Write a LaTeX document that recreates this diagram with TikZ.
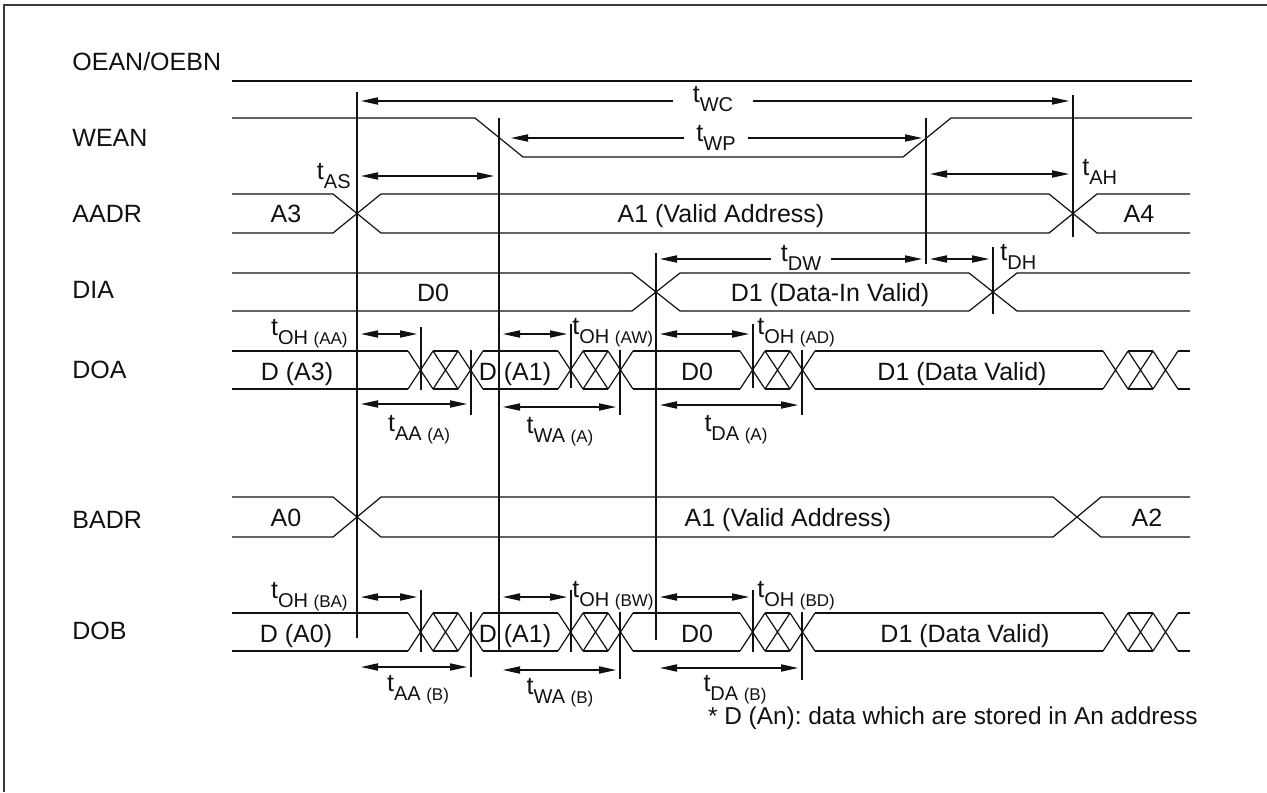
\documentclass[tikz,border=0pt]{standalone}
\usepackage{fontspec}
\setmainfont{Liberation Sans}
\usepackage{tikz}
\usetikzlibrary{arrows.meta}
\frenchspacing
\definecolor{tdink}{HTML}{111111}
\definecolor{tdframe}{HTML}{3A3A3A}
% timing labels: t with subscript, optional smaller part in brackets
\newcommand{\tlab}[1]{t\raisebox{-4.5pt}{\fontsize{10}{10}\selectfont #1}}
\newcommand{\tlabp}[2]{t\raisebox{-4.5pt}{\fontsize{10}{10}\selectfont #1 {\fontsize{8.5}{9}\selectfont #2}}}
\tikzset{
  wave/.style   ={line width=0.6pt, draw=tdink},
  marker/.style ={line width=0.6pt, draw=tdink},
  dimarr/.style ={{Triangle[length=8.5pt,width=3.6pt]}-{Triangle[length=8.5pt,width=3.6pt]},
                  line width=0.6pt, draw=tdink},
  signame/.style={anchor=base west, inner sep=0pt, text=tdink},
  buslbl/.style ={anchor=base, inner sep=0pt, text=tdink},
  tlbl/.style   ={inner sep=1pt, text=tdink},
  tgap/.style   ={fill=white, inner ysep=0pt, text=tdink},
}
% invalid (hatched) stretch of an output bus
\newcommand{\hatch}[2]{%
  \foreach \k in {0,1,2}
    \draw[wave] ({#1+25*\k},{#2-19}) -- ({#1+25*\k+25},{#2+19})
                ({#1+25*\k},{#2+19}) -- ({#1+25*\k+25},{#2-19});
  \draw[wave] ({#1+25},{#2-19}) -- ({#1+50},{#2-19})
              ({#1+25},{#2+19}) -- ({#1+50},{#2+19});}
% one data output bus (DOA / DOB)
\newcommand{\dout}[1]{%
  \foreach \a/\b in {232/408, 483/558, 633/740, 815/1103, 1178/1190}
    \draw[wave] (\a,{#1-19}) -- (\b,{#1-19}) (\a,{#1+19}) -- (\b,{#1+19});
  \foreach \s in {408,558,740,1103} {\hatch{\s}{#1}}}

\begin{document}
\begin{tikzpicture}[x=0.5pt, y=-0.5pt, font=\fontsize{12.5}{15}\selectfont]
  \useasboundingbox (0,0) rectangle (1267,792);
  \draw[tdframe, line width=1.2pt] (4,792) -- (4,5) -- (1267,5);

  % signal names
  \node[signame] (oean) at (72,71)  {OEAN/OEBN};
  \node[signame] (wean) at (72,146) {WEAN};
  \node[signame] (aadr) at (72,222) {AADR};
  \node[signame] (dia)  at (72,298) {DIA};
  \node[signame] (doa)  at (72,378) {DOA};
  \node[signame] (badr) at (72,528) {BADR};
  \node[signame] (dob)  at (72,639) {DOB};

  % waveforms
  \draw[wave] (232,81) -- (1192,81);
  \draw[wave] (232,118) -- (475,118) -- (523,157) -- (903,157) -- (951,118) -- (1192,118);
  \draw[wave] (232,194) -- (333,194) -- (381,233) -- (1049,233) -- (1097,194) -- (1190,194);
  \draw[wave] (232,233) -- (333,233) -- (381,194) -- (1049,194) -- (1097,233) -- (1190,233);
  \draw[wave] (232,273) -- (632,273) -- (680,311) -- (969,311) -- (1017,273) -- (1190,273);
  \draw[wave] (232,311) -- (632,311) -- (680,273) -- (969,273) -- (1017,311) -- (1190,311);
  \dout{370}
  \draw[wave] (232,497) -- (333,497) -- (381,537) -- (1053,537) -- (1101,497) -- (1190,497);
  \draw[wave] (232,537) -- (333,537) -- (381,497) -- (1053,497) -- (1101,537) -- (1190,537);
  \dout{632}

  % reference lines
  \foreach \n/\x/\ya/\yb in {m1/357/92/638, m2/499/118/652, m3/926/118/264, m4/1073/95/237,
      m5/656/253/640, m6/993/247/314,
      oaa/421/327/390, aaa/471/350/415, oaw/571/324/388, waa/620/350/415,
      oad/753/324/388, daa/802/350/415,
      oba/421/590/652, aab/471/612/677, obw/571/590/652, wab/620/612/679,
      obd/753/590/652, dab/802/612/680} {
    \coordinate (\n-t) at (\x,\ya);
    \coordinate (\n-b) at (\x,\yb);
    \draw[marker] (\n-t) -- (\n-b);
  }

  % timing arrows
  \foreach \n/\xa/\xb/\y in {twc/361/1069/101, twp/511/922/138, tas/361/494/176,
      tah/930/1069/174, tdw/660/922/259, tdh/930/989/259,
      toaa/361/417/334, toaw/503/567/334, toad/660/749/334,
      taaa/361/467/404, twaa/503/616/407, tdaa/660/798/405,
      toba/361/417/597, tobw/503/567/597, tobd/660/749/597,
      taab/361/467/667, twab/503/616/670, tdab/660/798/668} {
    \coordinate (\n-l) at (\xa,\y);
    \coordinate (\n-r) at (\xb,\y);
    \draw[dimarr] (\n-l) -- (\n-r);
  }

  % timing labels
  \node[tgap, inner xsep=10pt] (lwc) at (713,99)  {\tlab{WC}};
  \node[tgap, inner xsep=6pt] (lwp) at (716,138) {\tlab{WP}};
  \node[tgap, inner xsep=5pt] (ldw) at (801,258) {\tlab{DW}};
  \node[tlbl, anchor=east] (las) at (353,176) {\tlab{AS}};
  \node[tlbl, anchor=west] (lah) at (1080,172) {\tlab{AH}};
  \node[tlbl, anchor=west] (ldh) at (998,257) {\tlab{DH}};
  \node[tlbl, anchor=east] (loaa) at (350,334) {\tlabp{OH}{(AA)}};
  \node[tlbl, anchor=west] (loaw) at (570,333) {\tlabp{OH}{(AW)}};
  \node[tlbl, anchor=west] (load) at (755,333) {\tlabp{OH}{(AD)}};
  \node[tlbl] (laaa) at (419,430) {\tlabp{AA}{(A)}};
  \node[tlbl] (lwaa) at (560,432) {\tlabp{WA}{(A)}};
  \node[tlbl] (ldaa) at (736,430) {\tlabp{DA}{(A)}};
  \node[tlbl, anchor=east] (loba) at (350,597) {\tlabp{OH}{(BA)}};
  \node[tlbl, anchor=west] (lobw) at (570,596) {\tlabp{OH}{(BW)}};
  \node[tlbl, anchor=west] (lobd) at (755,596) {\tlabp{OH}{(BD)}};
  \node[tlbl] (laab) at (418,690) {\tlabp{AA}{(B)}};
  \node[tlbl] (lwab) at (560,693) {\tlabp{WA}{(B)}};
  \node[tlbl] (ldab) at (735,690) {\tlabp{DA}{(B)}};

  % bus contents
  \node[buslbl] (a3)   at (286,222)  {A3};
  \node[buslbl] (a1a)  at (721,222)  {A1 (Valid Address)};
  \node[buslbl] (a4)   at (1139,222) {A4};
  \node[buslbl] (d0i)  at (433,301)  {D0};
  \node[buslbl] (d1i)  at (830,301)  {D1 (Data-In Valid)};
  \node[buslbl] (da3)  at (297,380)  {D (A3)};
  \node[buslbl] (da1a) at (515,380)  {D (A1)};
  \node[buslbl] (d0a)  at (697,380)  {D0};
  \node[buslbl] (d1a)  at (962,380)  {D1 (Data Valid)};
  \node[buslbl] (a0)   at (286,526)  {A0};
  \node[buslbl] (a1b)  at (788,526)  {A1 (Valid Address)};
  \node[buslbl] (a2)   at (1147,526) {A2};
  \node[buslbl] (da0)  at (296,642)  {D (A0)};
  \node[buslbl] (da1b) at (515,642)  {D (A1)};
  \node[buslbl] (d0b)  at (697,642)  {D0};
  \node[buslbl] (d1b)  at (965,642)  {D1 (Data Valid)};

  \node[anchor=base east, inner sep=0pt, text=tdink, font=\fontsize{12.2}{14}\selectfont]
       (note) at (1198,724) {* D (An): data which are stored in An address};
\end{tikzpicture}
\end{document}
